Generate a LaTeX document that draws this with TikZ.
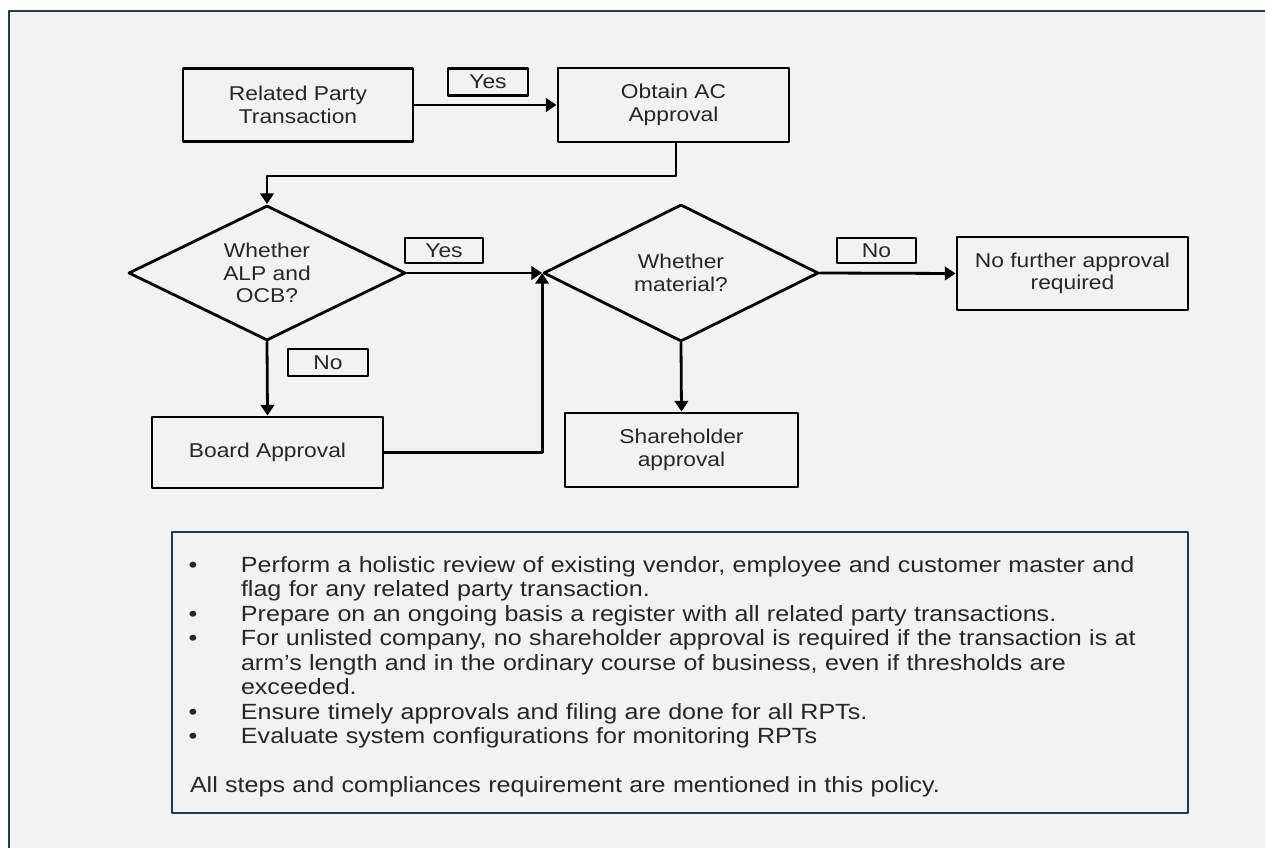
\documentclass[tikz,border=0pt]{standalone}
\usepackage{fontspec}
\setmainfont{Liberation Sans}[FakeStretch=1.14]
\usetikzlibrary{shapes.geometric,arrows.meta}
\definecolor{framecol}{HTML}{1F3A4A}
\definecolor{bggray}{HTML}{F2F2F2}
\definecolor{txtgray}{HTML}{262626}
\tikzset{
  stepbox/.style={draw,line width=2.1pt,text=txtgray,align=center,inner sep=2pt,minimum width=173.25pt,font=\fontsize{15}{16.8}\selectfont},
  choice/.style={diamond,draw,line width=2.1pt,text=txtgray,align=center,inner sep=0pt,aspect=2,font=\fontsize{15}{16.8}\selectfont},
  tag/.style={draw,line width=2.1pt,text=txtgray,inner sep=0pt,font=\fontsize{15}{16.8}\selectfont},
  link/.style={line width=2.1pt,->}
}
\newcommand{\noteitem}[1]{\par\noindent\hangindent=38.25pt\hangafter=1\makebox[38.25pt][l]{\hspace{-1pt}\textbullet}#1}
\begin{document}
\begin{tikzpicture}[line cap=round,line join=round,>={Triangle[length=8pt,width=10pt]},x=0.75pt,y=-0.75pt]
\useasboundingbox (0,0) rectangle (1265,848);
\fill[white] (0,0) rectangle (1265,848);
\draw[framecol,fill=bggray,line width=1.5pt] (9,11) rectangle (1280,870);
% flow
\node[stepbox,minimum width=172.5pt,minimum height=54.75pt] (rpt) at (298,105) {Related Party\\Transaction};
\node[stepbox,minimum height=55.5pt] (obtain) at (673.5,105) {Obtain AC\\Approval};
\node[tag,minimum width=60pt,minimum height=20.25pt] (yes1) at (488,82) {Yes};
\node[choice,minimum width=207.75pt,minimum height=101.25pt] (dec1) at (267,273) {Whether\\ALP and\\OCB?};
\node[choice,minimum width=206.25pt,minimum height=102.75pt] (dec2) at (681,273) {Whether\\material?};
\node[tag,minimum width=58.5pt,minimum height=18.75pt] (yes2) at (444,250.5) {Yes};
\node[tag,minimum width=59.25pt,minimum height=18.75pt] (no2) at (876.5,250.5) {No};
\node[tag,minimum width=60pt,minimum height=20.25pt] (no1) at (328,362.5) {No};
\node[stepbox,minimum height=54.75pt] (nofurther) at (1072.5,273.5) {No further approval\\required};
\node[stepbox,minimum height=53.25pt] (board) at (267.5,452.5) {Board Approval};
\node[stepbox,minimum width=174.75pt,minimum height=55.5pt] (share) at (681.5,450) {Shareholder\\approval};
\coordinate (bend) at (676,176);
\draw[link] (rpt) -- (obtain);
\draw[link] (obtain.south -| bend) -- (bend) -| (dec1.north);
\draw[link] (dec1.east) -- (dec2.west);
\draw[link] (dec1.south) -- (board.north);
\draw[link] (board.east) -| (dec2.west);
\draw[link] (dec2.east) -- (nofurther.west);
\draw[link] (dec2.south) -- (share.north);
% notes
\node[draw=framecol,line width=2pt,text=txtgray,minimum width=762pt,minimum height=210.75pt,text width=735pt,inner xsep=13.5pt,font=\fontsize{16.5}{18.4}\selectfont] (notes) at (680,672.5) {\raggedright
\noteitem{Perform a holistic review of existing vendor, employee and customer master and\newline flag for any related party transaction.}
\noteitem{Prepare on an ongoing basis a register with all related party transactions.}
\noteitem{For unlisted company, no shareholder approval is required if the transaction is at\newline arm’s length and in the ordinary course of business, even if thresholds are\newline exceeded.}
\noteitem{Ensure timely approvals and filing are done for all RPTs.}
\noteitem{Evaluate system configurations for monitoring RPTs}
\par\vspace{18.4pt}\noindent All steps and compliances requirement are mentioned in this policy.};
\end{tikzpicture}
\end{document}
